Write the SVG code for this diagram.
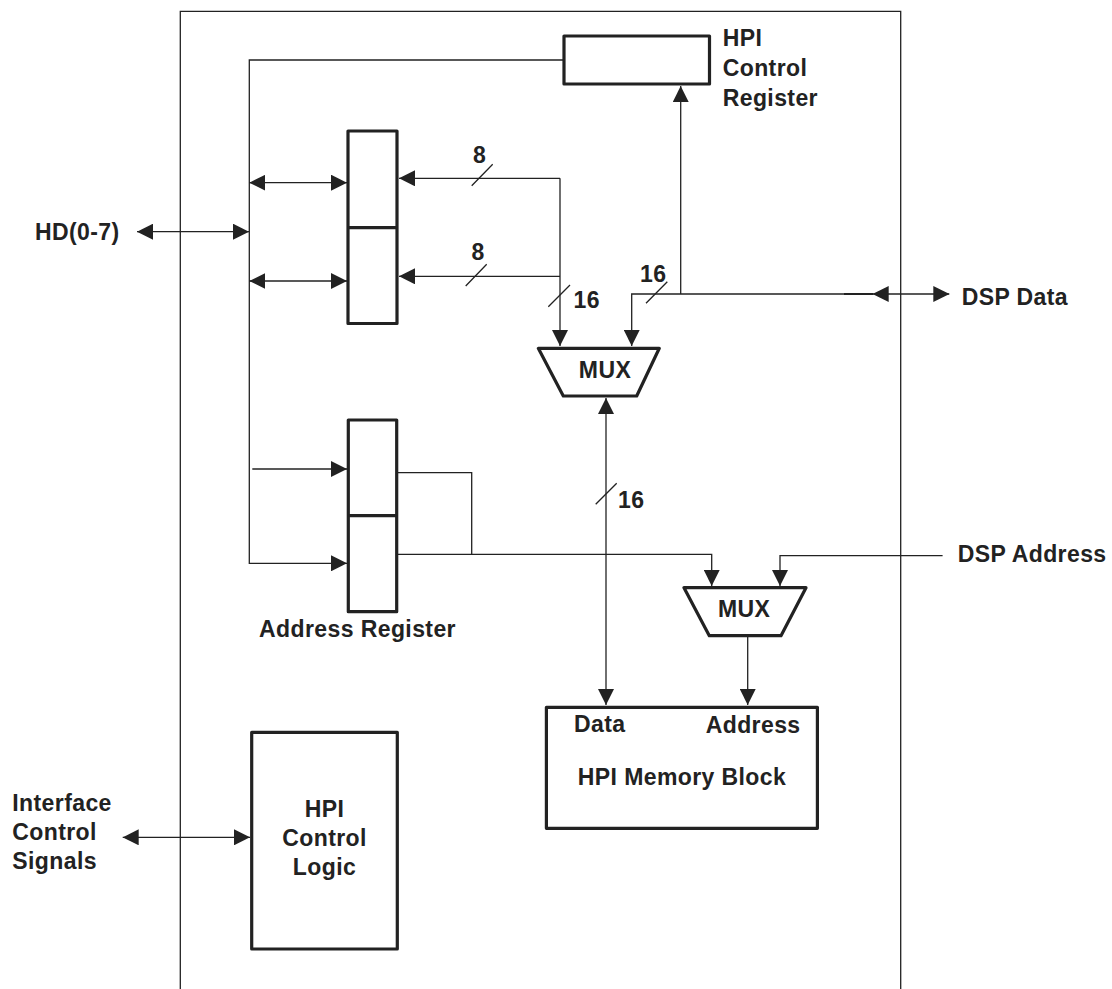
<svg xmlns="http://www.w3.org/2000/svg" width="1112" height="989" viewBox="0 0 1112 989">
<style>
.thin{fill:none;stroke:#222;stroke-width:1.3}
.box{fill:#fff;stroke:#222;stroke-width:3.2;stroke-linejoin:round}
.t{font-family:"Liberation Sans",Arial,sans-serif;font-weight:bold;font-size:23px;letter-spacing:0.4px;fill:#222}
.m{text-anchor:middle}
</style>
<defs>
<marker id="ah" markerUnits="userSpaceOnUse" viewBox="0 0 16 16" markerWidth="16" markerHeight="16" refX="16" refY="8" orient="auto-start-reverse">
<path d="M0,0 L16,8 L0,16 z" fill="#222"/>
</marker>
</defs>
<rect width="1112" height="989" fill="#fff"/>
<path id="frame" class="thin" d="M180.3,989 V11.3 H900.7 V989"/>
<g id="connectors">
<path class="thin" d="M564,60 H249.3 V563.3 H347" marker-end="url(#ah)"/>
<path class="thin" d="M137,231.7 H249" marker-start="url(#ah)" marker-end="url(#ah)"/>
<path class="thin" d="M249.3,182.7 H347" marker-start="url(#ah)" marker-end="url(#ah)"/>
<path class="thin" d="M249.3,281 H347" marker-start="url(#ah)" marker-end="url(#ah)"/>
<path class="thin" d="M252.3,469 H347" marker-end="url(#ah)"/>
<path class="thin" d="M560,178.3 H399" marker-end="url(#ah)"/>
<path class="thin" d="M560,276.3 H399" marker-end="url(#ah)"/>
<path class="thin" d="M560,178.3 V346" marker-end="url(#ah)"/>
<path class="thin" d="M872.7,294 H631.7 V346" marker-end="url(#ah)"/>
<path class="thin" d="M680.7,294 V86" marker-end="url(#ah)"/>
<path fill="none" stroke="#222" stroke-width="2" d="M844,294 H873"/>
<path class="thin" d="M872.7,294 H949.3" marker-start="url(#ah)" marker-end="url(#ah)"/>
<path class="thin" d="M606,398 V705" marker-start="url(#ah)" marker-end="url(#ah)"/>
<path class="thin" d="M397,472.7 H471.7 V554.3"/>
<path class="thin" d="M397,554.3 H711.7 V586" marker-end="url(#ah)"/>
<path class="thin" d="M942.6,555.7 H780 V586" marker-end="url(#ah)"/>
<path class="thin" d="M747.7,636 V705" marker-end="url(#ah)"/>
<path class="thin" d="M122.7,837.3 H250" marker-start="url(#ah)" marker-end="url(#ah)"/>
<path class="thin" d="M471.7,185.7 L492.7,164.3 M465.7,286 L486.7,264.3 M548.3,306.7 L570,285 M646,303.3 L667.3,281.7 M595.7,504.3 L616.7,483.3"/>
<text class="t m" x="479.7" y="163.3">8</text>
<text class="t m" x="478" y="260">8</text>
<text class="t m" x="586.7" y="308.3">16</text>
<text class="t m" x="653.3" y="281.7">16</text>
<text class="t" x="618" y="508.3">16</text>
</g>
<g id="hpi-control-register">
<rect class="box" x="564" y="36" width="145.5" height="48"/>
<text class="t" x="722.7" y="45.8">HPI</text>
<text class="t" x="722.7" y="75.8">Control</text>
<text class="t" x="722.7" y="105.8">Register</text>
</g>
<g id="data-register">
<rect class="box" x="348" y="131" width="49" height="192.5"/>
<line class="box" x1="348" y1="227.7" x2="397" y2="227.7"/>
</g>
<g id="address-register">
<rect class="box" x="348.3" y="420" width="48.4" height="191.7"/>
<line class="box" x1="348.3" y1="515.7" x2="396.7" y2="515.7"/>
<text class="t m" x="357.5" y="637">Address Register</text>
</g>
<g id="mux-data">
<path class="box" d="M538.3,348.3 H659.3 L636.7,396 H563.3 Z"/>
<text class="t m" x="605" y="378.3">MUX</text>
</g>
<g id="mux-address">
<path class="box" d="M684,587.7 H806 L781,635.7 H709.3 Z"/>
<text class="t m" x="744.2" y="616.7">MUX</text>
</g>
<g id="hpi-memory-block">
<rect class="box" x="546.4" y="707.3" width="271" height="121"/>
<text class="t" x="574" y="731.7">Data</text>
<text class="t" x="705.7" y="733.3">Address</text>
<text class="t m" x="682" y="785">HPI Memory Block</text>
</g>
<g id="hpi-control-logic">
<rect class="box" x="251.7" y="732.3" width="145.6" height="216.7"/>
<text class="t m" x="324.5" y="816.7">HPI</text>
<text class="t m" x="324.5" y="846">Control</text>
<text class="t m" x="324.5" y="875.3">Logic</text>
</g>
<g id="labels">
<text class="t" x="35" y="240">HD(0-7)</text>
<text class="t" x="961.7" y="305">DSP Data</text>
<text class="t" x="957.7" y="561.7">DSP Address</text>
<text class="t" x="12.3" y="810.7">Interface</text>
<text class="t" x="12.3" y="840">Control</text>
<text class="t" x="12.3" y="869.3">Signals</text>
</g>
</svg>
